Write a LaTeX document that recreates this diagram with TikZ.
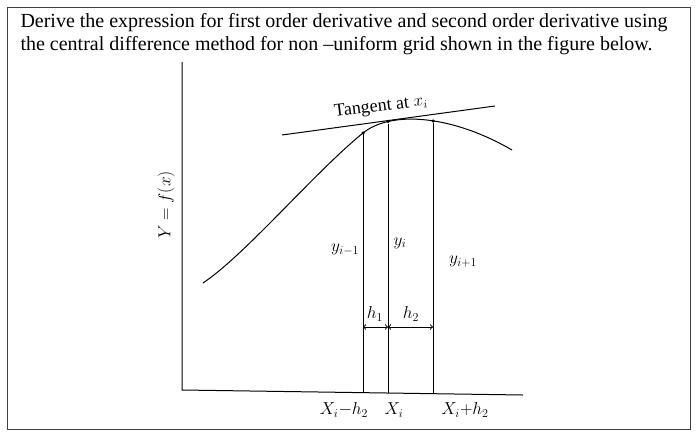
\documentclass[tikz,border=0pt]{standalone}
\usepackage{amsmath}
\usepackage{fontspec}
\setmainfont{Liberation Serif}
\usetikzlibrary{positioning}

\begin{document}
\begin{tikzpicture}[x=1pt,y=-1pt,line width=1pt,
    lbl/.style={font=\fontsize{18}{18}\selectfont,inner sep=1pt},
    dot/.style={circle,fill,inner sep=0pt,minimum size=3.5pt}]
  \useasboundingbox (0,0) rectangle (696,431);
  \draw[line width=0.8pt,black!75] (7,7) rectangle (690,429);
  \node[anchor=north west,align=left,inner sep=0pt,
        font=\fontsize{20}{22.5}\selectfont] (task) at (20,13)
    {Derive the expression for first order derivative and second order derivative using\\
     the central difference method for non --uniform grid shown in the figure below.};
  \coordinate (ytop) at (182,62);
  \coordinate (o) at (182,390);
  \coordinate (xend) at (523,395);
  \draw (ytop) -- (o) -- (xend);
  \coordinate (cs) at (203,283);
  \coordinate (ce) at (512,150);
  \coordinate (pm) at (363,133);
  \draw (cs) .. controls (245,255) and (315,172) .. (pm)
             .. controls (390,111) and (450,114) .. (ce);
  \node[dot] at (pm) {};
  \node[dot] (pi) at (388,121.5) {};
  \node[dot] (pp) at (433,121) {};
  \coordinate (tl) at (282,135);
  \coordinate (tr) at (495,106);
  \draw (tl) -- (tr);
  \coordinate (bm) at (363,393);
  \coordinate (bi) at (388,393);
  \coordinate (bp) at (433,394);
  \draw (pm) -- (bm) (pi) -- (bi) (pp) -- (bp);
  \coordinate (am) at (363,327);
  \coordinate (ai) at (388,327);
  \coordinate (ap) at (433,327);
  \draw[<->] (am) -- (ai);
  \draw[<->] (ai) -- (ap);
  \node[lbl] (h1) at (375,314) {$h_1$};
  \node[lbl] (h2) at (411,314) {$h_2$};
  \node[lbl] (ym) at (345,250) {$y_{i-1}$};
  \node[lbl] (yi) at (400,243) {$y_i$};
  \node[lbl] (yp) at (463,262) {$y_{i+1}$};
  \node[lbl] (xm) at (344,410) {$X_i{-}h_2$};
  \node[lbl] (xi) at (394,410) {$X_i$};
  \node[lbl] (xp) at (465,410) {$X_i{+}h_2$};
  \node[lbl,rotate=7] (tan) at (381,107) {Tangent at $x_i$};
  \node[lbl,rotate=90] (yf) at (166,205) {$Y = f(x)$};
\end{tikzpicture}
\end{document}
